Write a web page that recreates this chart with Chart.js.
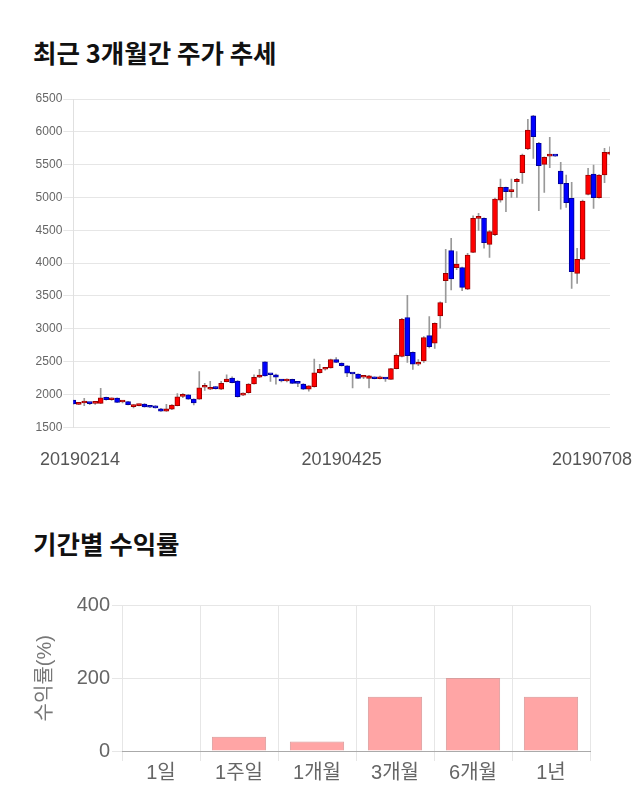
<!DOCTYPE html>
<html>
<head>
<meta charset="utf-8">
<script src="https://cdn.jsdelivr.net/npm/chart.js@4.4.0/dist/chart.umd.min.js"></script>
<style>
body { margin: 0; background: #fff; width: 640px; height: 810px; position: relative; overflow: hidden; font-family: 'Noto Sans CJK KR', sans-serif; }
h2 { position: absolute; left: 33px; margin: 0; font-size: 25.5px; font-weight: bold; color: #111; line-height: 1; }
#t1 { top: 39px; }
#t2 { top: 530px; }
.box { position: absolute; left: 0; width: 640px; }
#b1 { top: 80px; height: 400px; }
#b2 { top: 580px; height: 230px; }
</style>
</head>
<body>
<h2 id="t1">최근 3개월간 주가 추세</h2>
<div class="box" id="b1"><canvas id="candle"></canvas></div>
<h2 id="t2">기간별 수익률</h2>
<div class="box" id="b2"><canvas id="bar"></canvas></div>
<script>
// trading days
var dates = [
    '20190214', '20190215', '20190218', '20190219', '20190220', '20190221', '20190222', '20190225', '20190226', '20190227', '20190228',
    '20190304', '20190305', '20190306', '20190307', '20190308', '20190311', '20190312', '20190313', '20190314', '20190315',
    '20190318', '20190319', '20190320', '20190321', '20190322', '20190325', '20190326', '20190327', '20190328', '20190329',
    '20190401', '20190402', '20190403', '20190404', '20190405', '20190408', '20190409', '20190410', '20190411', '20190412',
    '20190415', '20190416', '20190417', '20190418', '20190419', '20190422', '20190423', '20190424', '20190425', '20190426',
    '20190429', '20190430', '20190502', '20190503', '20190507', '20190508', '20190509', '20190510', '20190513', '20190514',
    '20190515', '20190516', '20190517', '20190520', '20190521', '20190522', '20190523', '20190524', '20190527', '20190528',
    '20190529', '20190530', '20190531', '20190603', '20190604', '20190605', '20190607', '20190610', '20190611', '20190612',
    '20190613', '20190614', '20190617', '20190618', '20190619', '20190620', '20190621', '20190624', '20190625', '20190626',
    '20190627', '20190628', '20190701', '20190702', '20190703', '20190704', '20190705', '20190708'
];
var shownDates = ['20190214', '20190425', '20190708'];

var openP = [1915, 1850, 1870, 1875, 1865, 1865, 1955, 1920, 1945, 1885, 1890, 1815, 1830, 1855, 1810, 1805, 1780, 1745, 1775, 1830,
    1970, 1995, 1930, 1930, 2110, 2080, 2110, 2080, 2195, 2250, 2205, 1990, 2027, 2160, 2262, 2497, 2302, 2300, 2207, 2205,
    2230, 2172, 2160, 2080, 2118, 2331, 2384, 2403, 2530, 2478, 2437, 2314, 2312, 2262, 2246, 2262, 2240, 2250, 2231, 2394,
    2578, 3170, 2640, 2460, 2510, 2896, 2780, 3195, 3734, 4190, 3931, 3931, 3602, 4165, 4683, 4683, 4287, 4433, 4961, 5155,
    5090, 5240, 5377, 5738, 6245, 5825, 5505, 5630, 5632, 5403, 5216, 4987, 3845, 4062, 5048, 5357, 4997, 5342, 5660];
var highP = [1915, 1870, 1940, 1880, 1880, 2095, 1960, 1950, 1950, 1905, 1895, 1845, 1855, 1860, 1820, 1830, 1790, 1850, 1845, 2015,
    2015, 2000, 1935, 2350, 2170, 2200, 2120, 2200, 2300, 2270, 2210, 2025, 2165, 2300, 2384, 2500, 2310, 2310, 2230, 2240,
    2235, 2190, 2165, 2135, 2540, 2460, 2400, 2540, 2560, 2480, 2440, 2320, 2315, 2280, 2290, 2270, 2280, 2260, 2400, 2620,
    3160, 3510, 2650, 2530, 2880, 3185, 3090, 3410, 4211, 4378, 4175, 3940, 4150, 4720, 4760, 4690, 4500, 4990, 5281, 5160,
    5281, 5290, 5660, 6190, 6250, 5840, 5620, 5916, 5640, 5535, 5342, 5231, 4226, 4960, 5444, 5494, 5350, 5749, 5773];
var lowP = [1850, 1845, 1830, 1845, 1850, 1860, 1915, 1910, 1875, 1870, 1840, 1795, 1825, 1805, 1800, 1790, 1740, 1740, 1770, 1825,
    1950, 1925, 1840, 1925, 2060, 2075, 2080, 2075, 2190, 2175, 1960, 1980, 2020, 2155, 2255, 2280, 2200, 2155, 2190, 2190,
    2165, 2120, 2075, 2050, 2110, 2325, 2370, 2400, 2485, 2430, 2270, 2100, 2240, 2240, 2100, 2235, 2235, 2200, 2230, 2390,
    2570, 2490, 2380, 2440, 2490, 2710, 2700, 3008, 3398, 3591, 3900, 3580, 3595, 4160, 4500, 4230, 4089, 4420, 4930, 4783,
    5000, 5000, 5216, 5730, 5596, 4798, 5079, 5453, 5625, 4824, 4850, 3617, 3693, 4050, 5040, 4835, 4990, 5225, 5650];
var closeP = [1855, 1865, 1872, 1860, 1866, 1950, 1920, 1945, 1880, 1890, 1845, 1840, 1850, 1810, 1805, 1795, 1745, 1780, 1840, 1965,
    1990, 1930, 1870, 2100, 2112, 2110, 2090, 2170, 2236, 2180, 1966, 2018, 2160, 2262, 2297, 2284, 2300, 2262, 2205, 2230,
    2170, 2170, 2080, 2130, 2331, 2384, 2386, 2530, 2490, 2437, 2326, 2312, 2246, 2264, 2282, 2240, 2270, 2235, 2393, 2597,
    3145, 2590, 2460, 2490, 2866, 2729, 3084, 3398, 3845, 3758, 3987, 3632, 4124, 4683, 4685, 4311, 4479, 4977, 5155, 5088,
    5110, 5277, 5647, 6027, 5925, 5484, 5612, 5632, 5630, 5205, 4920, 3869, 4058, 4945, 5342, 4997, 5342, 5688, 5680];

var periods = ['1일', '1주일', '1개월', '3개월', '6개월', '1년'];
var returns = [0, 39, 26, 149, 201, 149];

Chart.defaults.font.family = "'Liberation Sans', 'Noto Sans CJK KR', sans-serif";
Chart.defaults.color = '#666';

var bodies = dates.map(function (d, i) { return [openP[i], closeP[i]]; });
var wicks = dates.map(function (d, i) { return [lowP[i], highP[i]]; });
var up = dates.map(function (d, i) { return closeP[i] >= openP[i]; });

var dateLabels = {
    id: 'dateLabels',
    afterDraw: function (chart) {
        var c = chart.ctx;
        var xs = chart.scales.x;
        c.save();
        c.font = "18px 'Liberation Sans', sans-serif";
        c.fillStyle = '#555';
        c.textAlign = 'center';
        c.textBaseline = 'middle';
        shownDates.forEach(function (d) {
            var w = c.measureText(d).width;
            var x = xs.getPixelForValue(dates.indexOf(d));
            x = Math.min(Math.max(x, 40 + w / 2), 632 - w / 2);
            c.fillText(d, x, chart.chartArea.bottom + 33);
        });
        c.restore();
    }
};

var ctx1 = document.getElementById('candle').getContext('2d');
var candleChart = new Chart(ctx1, {
    type: 'bar',
    data: {
        labels: dates,
        datasets: [{
            label: 'body',
            data: bodies,
            backgroundColor: up.map(function (u) { return u ? '#ff0000' : '#0000ff'; }),
            borderColor: up.map(function (u) { return u ? '#990000' : '#000099'; }),
            borderWidth: 1,
            borderSkipped: false,
            barThickness: 5,
            minBarLength: 2,
            grouped: false
        }, {
            label: 'wick',
            data: wicks,
            backgroundColor: '#999',
            borderWidth: 0,
            barThickness: 1,
            grouped: false
        }]
    },
    options: {
        responsive: true,
        maintainAspectRatio: false,
        animation: false,
        layout: { padding: { left: 0, right: 30, top: 19, bottom: 52.7 } },
        plugins: { legend: { display: false }, tooltip: { enabled: false } },
        scales: {
            x: { display: false, offset: false },
            y: {
                min: 1500,
                max: 6500,
                ticks: {
                    stepSize: 500, padding: 1, font: { size: 12 }, color: '#666',
                    callback: function (v) { return String(v); }
                },
                grid: { color: '#e6e6e6', tickLength: 10 },
                border: { color: '#e0e0e0' },
                afterFit: function (s) { s.width = 73.3; }
            }
        }
    },
    plugins: [dateLabels]
});

var ctx2 = document.getElementById('bar').getContext('2d');
var barChart = new Chart(ctx2, {
    type: 'bar',
    data: {
        labels: periods,
        datasets: [{
            label: '수익률',
            data: returns,
            backgroundColor: 'rgba(255, 100, 100, 0.58)',
            borderColor: 'rgba(215, 150, 150, 0.9)',
            borderWidth: 1,
            barPercentage: 0.87
        }]
    },
    options: {
        responsive: true,
        maintainAspectRatio: false,
        animation: false,
        layout: { padding: { left: 0, right: 50, top: 25.5, bottom: 0 } },
        plugins: { legend: { display: false }, tooltip: { enabled: false } },
        scales: {
            x: {
                grid: { color: '#e6e6e6', tickLength: 10 },
                border: { color: '#aaa' },
                ticks: { font: { size: 20 }, padding: 0, color: '#666' },
                afterFit: function (s) { s.height = 59; }
            },
            y: {
                min: 0,
                max: 400,
                ticks: { stepSize: 200, font: { size: 20 }, padding: 2, color: '#666' },
                grid: { color: '#e6e6e6', tickLength: 10 },
                border: { display: false },
                title: { display: true, text: '수익률(%)', font: { size: 20 }, color: '#777', padding: { top: 33 } },
                afterFit: function (s) { s.width = 122; }
            }
        }
    }
});
</script>
</body>
</html>
